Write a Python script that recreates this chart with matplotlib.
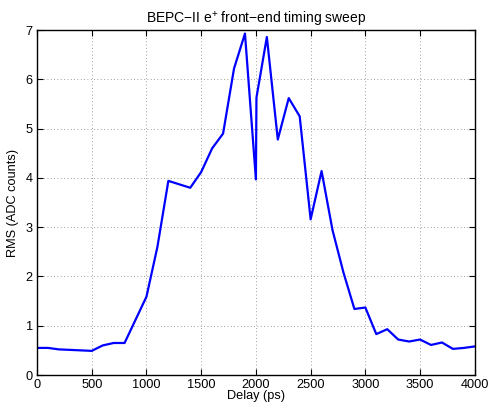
import matplotlib
matplotlib.use("Agg")
import matplotlib.pyplot as plt

plt.rcParams['font.family'] = ['Liberation Sans', 'DejaVu Sans']
plt.rcParams['mathtext.fontset'] = 'custom'
plt.rcParams['mathtext.rm'] = 'Liberation Sans'
plt.rcParams['mathtext.it'] = 'Liberation Sans'

delay = [0, 100, 200, 300, 400, 500, 600, 700, 800, 900, 1000, 1100, 1200,
         1400, 1500, 1600, 1700, 1800, 1900, 2000, 2005, 2100, 2200, 2300,
         2400, 2500, 2600, 2700, 2800, 2900, 3000, 3100, 3200, 3300, 3400,
         3500, 3600, 3700, 3800, 3900, 4000]
rms = [0.55, 0.55, 0.52, 0.51, 0.50, 0.49, 0.60, 0.65, 0.65, 1.12, 1.59, 2.6,
       3.94, 3.80, 4.12, 4.60, 4.90, 6.22, 6.93, 3.97, 5.63, 6.86, 4.78, 5.62,
       5.25, 3.16, 4.14, 2.94, 2.08, 1.34, 1.37, 0.83, 0.93, 0.72, 0.68,
       0.72, 0.61, 0.66, 0.53, 0.55, 0.58]

xticks = [0, 500, 1000, 1500, 2000, 2500, 3000, 3500, 4000]
yticks = [0, 1, 2, 3, 4, 5, 6, 7]

fig = plt.figure(figsize=(4.91, 4.07), dpi=100)
ax = fig.add_axes([0.0754, 0.0786, 0.8916, 0.8474])

ax.plot(delay, rms, color='#0000ff', lw=1.6)

ax.set_xlim(0, 4000)
ax.set_ylim(0, 7)
ax.set_xticks(xticks)
ax.set_yticks(yticks)
ax.grid(True, linestyle=(0, (1, 3)), color='#808080', lw=0.6)
ax.tick_params(direction='in', top=True, right=True, labelsize=9.2,
               length=4, width=0.8, pad=3)
for s in ax.spines.values():
    s.set_linewidth(1.0)

ax.set_xlabel('Delay (ps)', fontsize=9.2, labelpad=-1)
ax.set_ylabel('RMS (ADC counts)', fontsize=9.2, labelpad=5)
ax.set_title('BEPC\u2212II e$^{+}$ front\u2212end timing sweep', fontsize=10, pad=5)

fig.savefig('out.png', dpi=100)
